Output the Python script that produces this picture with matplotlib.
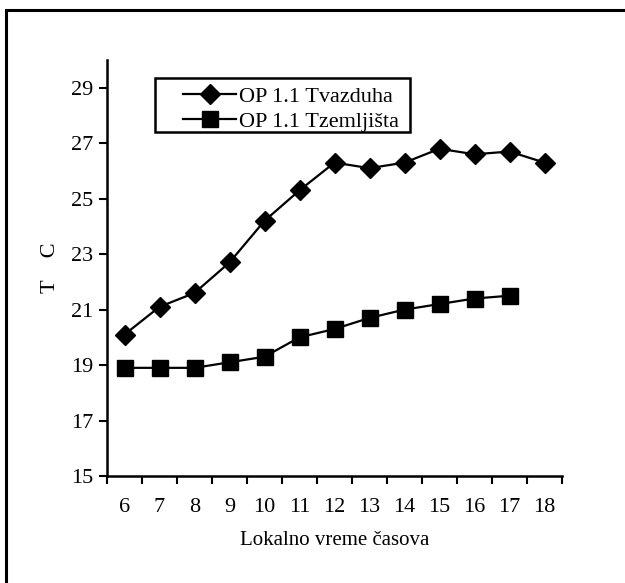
import matplotlib
matplotlib.use("Agg")
import matplotlib.pyplot as plt
from matplotlib.patches import Rectangle

# Lokalno vreme (sati)
hours = [6, 7, 8, 9, 10, 11, 12, 13, 14, 15, 16, 17, 18]
# Temperatura vazduha
t_vazduha = [20.1, 21.1, 21.6, 22.7, 24.2, 25.3, 26.3, 26.1, 26.3, 26.8, 26.6, 26.7, 26.3]
# Temperatura zemljista (do 17h)
t_zemljista = [18.9, 18.9, 18.9, 19.1, 19.3, 20.0, 20.3, 20.7, 21.0, 21.2, 21.4, 21.5]
y_ticks = [15, 17, 19, 21, 23, 25, 27, 29]

plt.rcParams['font.family'] = ['Liberation Serif', 'DejaVu Serif']

fig = plt.figure(figsize=(6.25, 5.83), dpi=100)
ax = fig.add_axes([107 / 625, 107 / 583, 455 / 625, 416 / 583])

# okvir oko cele slike
fig.patches.append(Rectangle((6 / 625, -0.1), 1.2, 573 / 583 + 0.1,
                             transform=fig.transFigure, fill=False,
                             edgecolor='black', linewidth=2.2))

xpos = [i + 0.5 for i in range(len(hours))]
ax.plot(xpos, t_vazduha, color='black', lw=1.6, marker='D', ms=10,
        label='OP 1.1 Tvazduha')
ax.plot(xpos[:len(t_zemljista)], t_zemljista, color='black', lw=1.6,
        marker='s', ms=11, label='OP 1.1 Tzemljišta')

ax.set_xlim(0, len(hours))
ax.set_ylim(15, 30)
ax.set_yticks(y_ticks)
ax.set_yticklabels([str(v) for v in y_ticks], fontsize=16)
ax.set_xticks(range(len(hours) + 1))
ax.set_xticklabels([])
ax.set_xticks(xpos, minor=True)
ax.set_xticklabels([str(h) for h in hours], minor=True, fontsize=16)
ax.tick_params(axis='x', which='major', direction='out', length=6, width=1.5)
ax.tick_params(axis='x', which='minor', length=0, pad=16)
ax.tick_params(axis='y', direction='out', length=6, width=1.5, pad=4)

for s in ['top', 'right']:
    ax.spines[s].set_visible(False)
for s in ['left', 'bottom']:
    ax.spines[s].set_linewidth(1.8)

ax.set_xlabel('Lokalno vreme časova', fontsize=15, labelpad=10)
ax.set_ylabel('T    C', fontsize=16)
ax.yaxis.set_label_coords(-0.103, 0.5)

# okvir legende crtan posebno (sira unutrasnja margina nego u matplotlib-u)
ax.add_patch(Rectangle((48 / 455, 344 / 416), 255 / 455, 54 / 416,
                       transform=ax.transAxes, fill=False, edgecolor='black',
                       linewidth=1.8, clip_on=False, zorder=4))
leg = ax.legend(loc='upper left', bbox_to_anchor=(76 / 455, 390 / 416),
                fontsize=16, frameon=False, borderpad=0,
                handlelength=2.4, handletextpad=0.1, labelspacing=0.2,
                borderaxespad=0)

fig.savefig('out.png', dpi=100)
